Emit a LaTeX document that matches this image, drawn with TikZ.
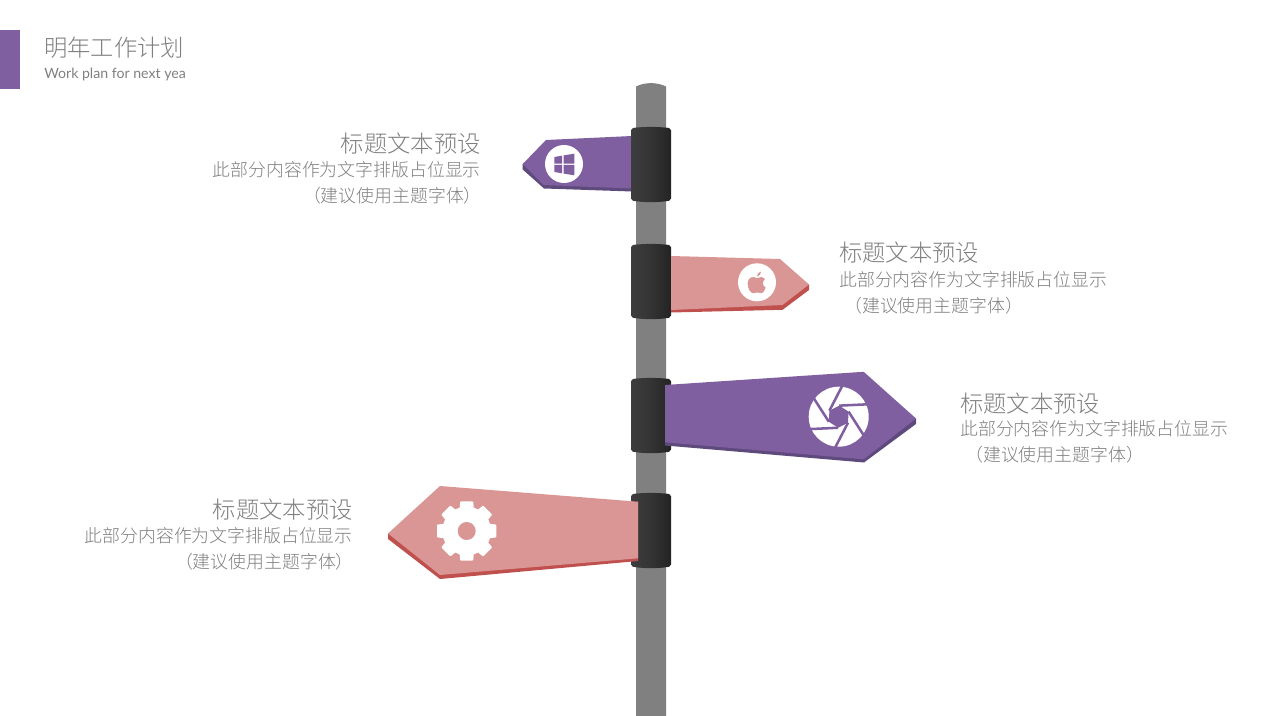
\documentclass[tikz,border=0pt]{standalone}
\usepackage{fontspec}
\usetikzlibrary{calc}
\setmainfont{Lato}
\newfontfamily\cjk{Noto Sans CJK SC Light}
\definecolor{pur}{HTML}{7F5FA0}
\definecolor{purd}{HTML}{5E4A7C}
\definecolor{pnk}{HTML}{DA9694}
\definecolor{pnkd}{HTML}{C0504D}
\definecolor{txt}{HTML}{7F7F7F}
\tikzset{
  ttl/.style={inner sep=0pt,text=txt,font=\cjk\fontsize{17.5pt}{20pt}\selectfont},
  bdy/.style={inner sep=0pt,text=txt,font=\cjk\fontsize{13.4pt}{16pt}\selectfont},
  clampbody/.style={left color=black!76,right color=black!86,middle color=black!80,draw=none},
  wfill/.style={fill=white,draw=none}
}
\begin{document}
\begin{tikzpicture}[x=0.75pt,y=-0.75pt]
\useasboundingbox (0,0) rectangle (1278,716);
% header
\fill[pur] (0,30) rectangle (20,89);
\node[anchor=base west,inner sep=0pt,text=txt,font=\cjk\fontsize{17.5pt}{20pt}\selectfont] (head) at (44,57) {明年工作计划};
\node[anchor=base west,inner sep=0pt,text=txt,font=\fontsize{10.6pt}{12pt}\selectfont] (sub) at (44,79) {Work plan for next yea};
% pole
\fill[black!50] (636,716) -- (636,86.5) .. controls (645,82) and (657,82) .. (666,86.5) -- (666,716) -- cycle;
% sign 1
\fill[purd] (522.7,164) -- (522.7,169.5) -- (544,188.5) -- (632,191.5) -- (632,136) -- cycle;
\fill[pur] (632,136) -- (546,140) -- (522.7,164) -- (543.5,185) -- (632,188.5) -- cycle;
% clamps
\foreach \t/\n in {127/a,244/b,378/c,493/d}{
  \shade[clampbody,rounded corners=1.5pt] (631,\t+1.2) .. controls (644,\t-0.4) and (658,\t-0.4) .. (671,\t+1.2) -- (671,\t+73.5) .. controls (658,\t+75.6) and (644,\t+75.6) .. (631,\t+73.5) -- cycle;
}
% sign 2
\fill[pnkd] (671,256) -- (809,284.5) -- (809,290) -- (782.5,309.8) -- (671,312.5) -- cycle;
\fill[pnk] (671,256) -- (780,259) -- (809,284.5) -- (782.5,305) -- (671,310) -- cycle;
% sign 3
\fill[purd] (665,385) -- (916,418.5) -- (916,424) -- (864,462.5) -- (665,445.5) -- cycle;
\fill[pur] (665,385) -- (863.7,371.8) -- (916,418.5) -- (863.7,459.3) -- (665,442.3) -- cycle;
% sign 4
\fill[pnkd] (638,501.7) -- (388,533.5) -- (388,539) -- (440,579) -- (638,561) -- cycle;
\fill[pnk] (638,501.7) -- (440,486) -- (388,533.5) -- (440,575) -- (638,558.3) -- cycle;
% windows icon
\fill[wfill] (564,164) circle[radius=19];
\fill[pur] (554.3,157) -- (562,155.7) -- (562,163.6) -- (554.3,163.6) -- cycle
  (563.6,155.4) -- (574.3,153.7) -- (574.3,163.6) -- (563.6,163.6) -- cycle
  (554.3,165) -- (562,165) -- (562,173.3) -- (554.3,172) -- cycle
  (563.6,165) -- (574.3,165) -- (574.3,175.3) -- (563.6,173.6) -- cycle;
% apple icon
\fill[wfill] (757,282.3) circle[radius=19];
\fill[pnk] (757,278.2) .. controls (753,275.8) and (748,277) .. (747.6,283.2)
  .. controls (747.4,288) and (750.5,293.4) .. (753.4,293.3)
  .. controls (755,293.2) and (755.8,292.4) .. (757.2,292.4)
  .. controls (758.6,292.4) and (759.4,293.2) .. (760.8,293.2)
  .. controls (763,293.2) and (765.2,289.6) .. (765.6,287.4)
  .. controls (762.4,286.2) and (761.8,281) .. (765,279.2)
  .. controls (762.8,276.4) and (759.6,276.6) .. (757,278.2) -- cycle
  (757,276.6) .. controls (757,274) and (758.6,272) .. (761,271.6)
  .. controls (761,274.2) and (759.4,276.2) .. (757,276.6) -- cycle;
% shutter icon
\coordinate (sh) at (838.7,416.7);
\fill[wfill] (sh) circle[radius=30];
\fill[pur] ($(sh)+(-9.3,-6)$)
  \foreach \a in {60,120,180,240,300}{ -- ($(sh)+({-9.3*cos(\a)+6*sin(\a)},{-9.3*sin(\a)-6*cos(\a)})$) } -- cycle;
\foreach \a in {0,60,120,180,240,300}{
  \draw[pur,line width=1.9pt] ($(sh)+({3.6*cos(\a)+31*sin(\a)},{3.6*sin(\a)-31*cos(\a)})$) -- ($(sh)+({-9.3*cos(\a)+6*sin(\a)},{-9.3*sin(\a)-6*cos(\a)})$);
}
% gear icon
\coordinate (gr) at (466.7,531);
\fill[white,line join=round,draw=white,line width=1.5pt] ($(gr)+({23.5*cos(-15)},{23.5*sin(-15)})$)
  \foreach \a in {0,45,90,135,180,225,270,315}{
    -- ($(gr)+({23.5*cos(\a-15)},{23.5*sin(\a-15)})$)
    -- ($(gr)+({29.2*cos(\a-11)},{29.2*sin(\a-11)})$)
    -- ($(gr)+({29.2*cos(\a+11)},{29.2*sin(\a+11)})$)
    -- ($(gr)+({23.5*cos(\a+15)},{23.5*sin(\a+15)})$)
  } -- cycle;
\fill[pnk] (gr) circle[radius=9];
% texts
\node[ttl,anchor=base east] (t1) at (481,153) {标题文本预设};
\node[bdy,anchor=base east] (b1) at (481,177) {此部分内容作为文字排版占位显示};
\node[bdy,anchor=base east] (c1) at (482,203) {（建议使用主题字体）};
\node[ttl,anchor=base west] (t2) at (839,262) {标题文本预设};
\node[bdy,anchor=base west] (b2) at (839,286.5) {此部分内容作为文字排版占位显示};
\node[bdy,anchor=base west] (c2) at (844,312.5) {（建议使用主题字体）};
\node[ttl,anchor=base west] (t3) at (960,412) {标题文本预设};
\node[bdy,anchor=base west] (b3) at (960,435.5) {此部分内容作为文字排版占位显示};
\node[bdy,anchor=base west] (c3) at (965,461.5) {（建议使用主题字体）};
\node[ttl,anchor=base east] (t4) at (353,518) {标题文本预设};
\node[bdy,anchor=base east] (b4) at (353,542.5) {此部分内容作为文字排版占位显示};
\node[bdy,anchor=base east] (c4) at (354,568.5) {（建议使用主题字体）};
\end{tikzpicture}
\end{document}
